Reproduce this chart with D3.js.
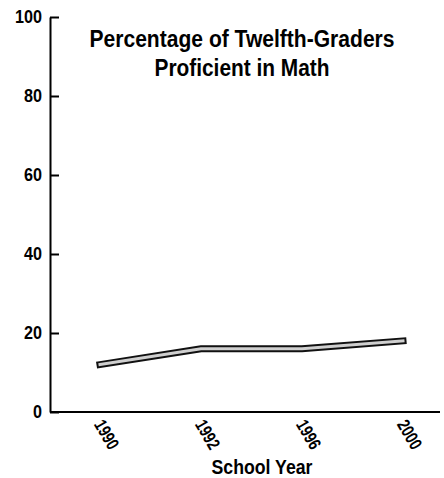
<!DOCTYPE html>
<html>
<head>
<meta charset="utf-8">
<script src="https://cdn.jsdelivr.net/npm/d3@7"></script>
<style>
  body { margin: 0; background: #fff; }
  text { font-family: "Liberation Sans", Arial, sans-serif; font-weight: bold; }
</style>
</head>
<body>
<script>
var years = ["1990", "1992", "1996", "2000"];
var percent = [12, 16, 16, 18];
var yTicks = [0, 20, 40, 60, 80, 100];

var margin = {top: 17, right: 4, bottom: 66, left: 50},
    width = 444 - margin.left - margin.right,
    height = 478 - margin.top - margin.bottom;

var svg = d3.select("body").append("svg")
    .attr("width", 444)
    .attr("height", 478)
  .append("g")
    .attr("transform", "translate(" + margin.left + "," + margin.top + ")");

// scales
var x = d3.scalePoint()
    .domain(years)
    .range([50, 353]);
var y = d3.scaleLinear()
    .domain([0, 100])
    .range([height, 0]);

// title (squeezed to look like a condensed face)
svg.append("text")
    .attr("x", 192)
    .attr("y", 30)
    .attr("text-anchor", "middle")
    .attr("textLength", 305)
    .attr("lengthAdjust", "spacingAndGlyphs")
    .style("font-size", "23px")
    .text("Percentage of Twelfth-Graders");
svg.append("text")
    .attr("x", 192)
    .attr("y", 59)
    .attr("text-anchor", "middle")
    .attr("textLength", 175)
    .attr("lengthAdjust", "spacingAndGlyphs")
    .style("font-size", "23px")
    .text("Proficient in Math");

// y axis, ticks pointing inward
var yAxis = svg.append("g")
    .call(d3.axisLeft(y).tickValues(yTicks).tickSizeInner(-9).tickSizeOuter(0).tickPadding(8));
yAxis.selectAll("path, line").attr("stroke", "#000").attr("stroke-width", 2);
yAxis.selectAll("text")
    .style("font-size", "18px")
    .attr("fill", "#000")
    .attr("textLength", function(d) { return String(d).length * 9; })
    .attr("lengthAdjust", "spacingAndGlyphs");

// x axis line
svg.append("line")
    .attr("x1", 0)
    .attr("x2", width)
    .attr("y1", height)
    .attr("y2", height)
    .attr("stroke", "#000")
    .attr("stroke-width", 2);

// x tick labels, rotated
svg.selectAll(".xlab")
    .data(years)
  .enter().append("text")
    .attr("class", "xlab")
    .attr("transform", function(d) { return "translate(" + (x(d) - 1) + "," + (height + 9) + ") rotate(60)"; })
    .attr("text-anchor", "start")
    .attr("dy", "0.35em")
    .attr("textLength", 31)
    .attr("lengthAdjust", "spacingAndGlyphs")
    .style("font-size", "18px")
    .text(function(d) { return d; });

// x axis title
svg.append("text")
    .attr("x", 212)
    .attr("y", height + 62)
    .attr("text-anchor", "middle")
    .attr("textLength", 101)
    .attr("lengthAdjust", "spacingAndGlyphs")
    .style("font-size", "20px")
    .text("School Year");

// line: dark outline with light fill
var line = d3.line()
    .x(function(d, i) { return x(years[i]); })
    .y(function(d) { return y(d); });

svg.append("path")
    .datum(percent)
    .attr("d", line)
    .attr("fill", "none")
    .attr("stroke", "#111")
    .attr("stroke-width", 7)
    .attr("stroke-linecap", "square");
svg.append("path")
    .datum(percent)
    .attr("d", line)
    .attr("fill", "none")
    .attr("stroke", "#cfcfcf")
    .attr("stroke-width", 3)
    .attr("stroke-linecap", "square");
</script>
</body>
</html>
